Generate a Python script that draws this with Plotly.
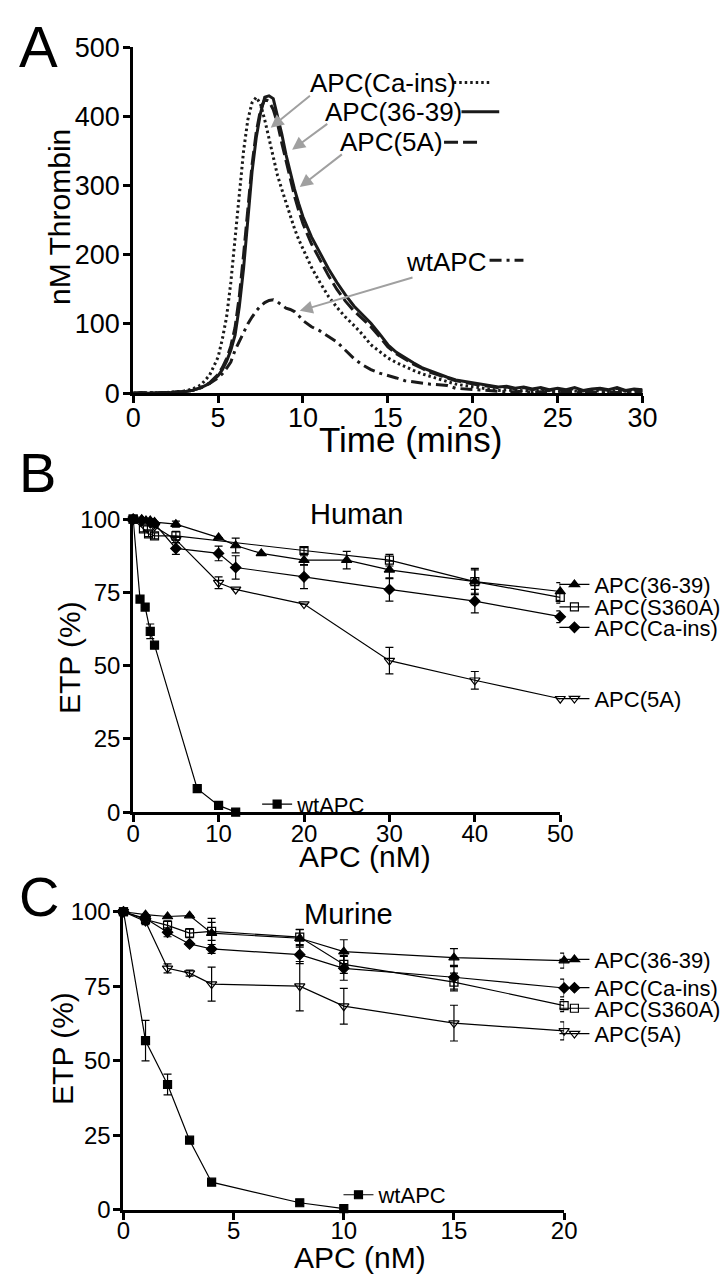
import plotly.graph_objects as go

FONT = "Liberation Sans, Arial, sans-serif"
W, H = 728, 1284

# ---- Panel A : thrombin generation curves (time in minutes, nM thrombin)
time_min = [0, 0.5, 1, 1.5, 2, 2.5, 3, 3.5, 4, 4.5,
            5, 5.25, 5.5, 5.75, 6, 6.25, 6.5, 6.75, 7, 7.25, 7.5, 7.75, 8, 8.25, 8.5, 8.75, 9, 9.25, 9.5, 9.75,
            10, 10.5, 11, 11.5, 12, 12.5, 13, 13.5, 14, 14.5, 15, 15.5, 16, 16.5, 17, 17.5, 18, 18.5, 19, 19.5,
            20, 20.5, 21, 21.5, 22, 22.5, 23, 23.5, 24, 24.5, 25, 25.5, 26, 26.5, 27, 27.5, 28, 28.5, 29, 29.5, 30]

thr_ca_ins = [0, 0, 0, 1, 1, 2, 3, 6, 12, 26,
              52, 78, 110, 160, 225, 290, 350, 395, 420, 428, 418, 395, 368, 340, 315, 295, 275, 255, 238, 222,
              208, 182, 160, 140, 124, 110, 98, 85, 70, 60, 51, 44, 38, 33, 28, 24, 20, 16, 13, 11,
              9, 7, 6, 4, 5, 3, 4, 2, 5, 3, 2, 4, 3, 2, 4, 3, 2, 4, 3, 2, 3]

thr_36_39 = [0, 0, 1, 1, 0, 2, 2, 4, 8, 14,
             25, 34, 46, 62, 84, 125, 180, 250, 320, 370, 405, 428, 430, 426, 402, 375, 345, 318, 295, 274,
             255, 226, 202, 180, 160, 142, 126, 113, 101, 86, 70, 59, 51, 44, 37, 32, 27, 23, 19, 17,
             14, 13, 11, 9, 10, 7, 9, 6, 8, 5, 7, 5, 8, 4, 6, 7, 5, 8, 4, 6, 5]

thr_5a = [0, 1, 0, 1, 1, 1, 2, 4, 8, 15,
          27, 37, 50, 68, 95, 140, 200, 268, 330, 378, 410, 425, 422, 410, 390, 362, 335, 308, 285, 264,
          245, 216, 192, 170, 150, 133, 119, 107, 96, 82, 67, 57, 49, 42, 36, 30, 26, 22, 18, 16,
          13, 11, 10, 8, 9, 6, 8, 5, 7, 4, 6, 4, 7, 3, 5, 6, 4, 7, 3, 5, 4]

thr_wt = [0, 0, 0, 1, 1, 1, 2, 4, 8, 14,
          22, 28, 36, 45, 62, 75, 88, 100, 110, 119, 126, 131, 134, 135, 132, 127, 123, 121, 118, 112,
          105, 96, 90, 82, 74, 62, 50, 41, 34, 29, 26, 22, 18, 16, 15, 13, 12, 11, 7, 6,
          6, 4, 3, 3, 2, 2, 3, 1, 2, 1, 2, 1, 2, 1, 2, 1, 2, 1, 2, 1, 1]

# ---- Panel B : Human plasma, ETP (%) vs APC (nM)
h_wt_x = [0, 0.8, 1.4, 2, 2.5, 7.5, 10, 12]
h_wt_y = [100, 72.7, 70, 61.7, 57, 8, 2.3, 0]
h_wt_e = [0, 0, 0, 2.5, 0, 0, 0, 0]

h_3639_x = [0, 1, 1.5, 2, 2.5, 5, 10, 12, 15, 20, 25, 30, 40, 50]
h_3639_y = [100, 100, 99.5, 99.5, 99, 98.3, 93.7, 91, 88.3, 86, 86, 82.7, 78.7, 75.3]
h_3639_e = [0, 0, 0, 0, 0, 1, 0, 2.5, 0, 1.5, 3, 3, 4, 3]

h_s360a_x = [0, 1.2, 1.8, 2.5, 5, 20, 30, 40, 50]
h_s360a_y = [100, 96.7, 95, 94.3, 94.3, 89.3, 86, 78.7, 73.3]
h_s360a_e = [0, 1, 1, 1, 1.5, 1, 2, 4.5, 2]

h_ca_x = [0, 1, 2, 2.5, 5, 10, 12, 20, 30, 40, 50]
h_ca_y = [100, 99.5, 99, 98.5, 90, 88.3, 83.5, 80.3, 76, 72, 66.7]
h_ca_e = [0, 0, 0, 0, 2, 2.5, 4, 4, 4, 4, 2]

h_5a_x = [0, 1, 2, 2.5, 5, 10, 12, 20, 30, 40, 50]
h_5a_y = [100, 99.5, 98.5, 97.5, 93, 78.3, 76, 71, 51.7, 45, 38.7]
h_5a_e = [0, 0, 0, 0, 1, 2, 0, 0, 4.5, 3, 0]

# ---- Panel C : Murine plasma
m_wt_x = [0, 1, 2, 3, 4, 8, 10]
m_wt_y = [100, 56.7, 42, 23.3, 9.2, 2.3, 0.3]
m_wt_e = [0, 6.8, 3.5, 0, 0, 0, 0]

m_x = [0, 1, 2, 3, 4, 8, 10, 15, 20]
m_3639_y = [100, 99, 98.4, 98.7, 92.8, 91.1, 86.6, 84.6, 83.6]
m_3639_e = [0, 0, 0, 0, 5, 3, 4, 3, 2.5]
m_s360a_y = [100, 97.4, 95.4, 92.8, 93.4, 91.5, 82.3, 76.4, 68.5]
m_s360a_e = [0, 1, 1.5, 1.5, 3, 2.5, 3, 3, 2]
m_ca_y = [100, 97.7, 93.1, 89.2, 87.5, 85.6, 81, 78, 74.4]
m_ca_e = [0, 0.5, 1.5, 0, 1.5, 3, 4, 4, 3]
m_5a_y = [100, 96.7, 81, 79.4, 75.7, 75, 68.3, 62.6, 60]
m_5a_e = [0, 1, 1.5, 1, 5.7, 8.3, 6, 6, 3]


def px(x):
    return x / W


def py(y):
    return 1 - y / H


fig = go.Figure()

# panel A curves
DOT = "2.5px,3px"
LDASH = "14px,5px"
DDOT = "12px,5px,3px,5px"
curve_styles = [
    (thr_ca_ins, DOT, 3),
    (thr_36_39, "solid", 3),
    (thr_5a, LDASH, 3),
    (thr_wt, DDOT, 3),
]
for vals, dash, lw in curve_styles:
    fig.add_trace(go.Scatter(x=time_min, y=vals, mode="lines", xaxis="x", yaxis="y",
                             line=dict(color="#1a1a1a", width=lw, dash=dash), showlegend=False))

# panels B and C: line + markers + error bars, each with its own little legend
def etp_trace(x, y, e, name, symbol, size, xa, ya, legend):
    return go.Scatter(
        x=x, y=y, mode="lines+markers", name=name, xaxis=xa, yaxis=ya, legend=legend,
        line=dict(color="black", width=1.2),
        marker=dict(symbol=symbol, size=size, color="black", line=dict(color="black", width=1.2)),
        error_y=dict(type="data", array=e, visible=True, color="black", thickness=1.2, width=4),
        cliponaxis=False,
    )

fig.add_trace(etp_trace(h_3639_x, h_3639_y, h_3639_e, "APC(36-39)", "triangle-up", 9, "x2", "y2", "legend"))
fig.add_trace(etp_trace(h_s360a_x, h_s360a_y, h_s360a_e, "APC(S360A)", "square-open", 8, "x2", "y2", "legend2"))
fig.add_trace(etp_trace(h_ca_x, h_ca_y, h_ca_e, "APC(Ca-ins)", "diamond", 8, "x2", "y2", "legend3"))
fig.add_trace(etp_trace(h_5a_x, h_5a_y, h_5a_e, "APC(5A)", "triangle-down-open", 9, "x2", "y2", "legend4"))
fig.add_trace(etp_trace(h_wt_x, h_wt_y, h_wt_e, "wtAPC", "square", 8, "x2", "y2", "legend5"))

fig.add_trace(etp_trace(m_x, m_3639_y, m_3639_e, "APC(36-39)", "triangle-up", 9, "x3", "y3", "legend6"))
fig.add_trace(etp_trace(m_x, m_ca_y, m_ca_e, "APC(Ca-ins)", "diamond", 8, "x3", "y3", "legend7"))
fig.add_trace(etp_trace(m_x, m_s360a_y, m_s360a_e, "APC(S360A)", "square-open", 8, "x3", "y3", "legend8"))
fig.add_trace(etp_trace(m_x, m_5a_y, m_5a_e, "APC(5A)", "triangle-down-open", 9, "x3", "y3", "legend9"))
fig.add_trace(etp_trace(m_wt_x, m_wt_y, m_wt_e, "wtAPC", "square", 8, "x3", "y3", "legend10"))

axis_style = dict(showline=True, linecolor="black", linewidth=3, ticks="outside", ticklen=7,
                  tickwidth=3, tickcolor="black", showgrid=False, zeroline=False,
                  tickfont=dict(family=FONT, size=24, color="black"))
x_style = dict(axis_style, ticklabelstandoff=-9)
y_style = dict(axis_style, ticklabelstandoff=-2)

layout = dict(
    width=W, height=H, margin=dict(l=0, r=0, t=0, b=0),
    paper_bgcolor="white", plot_bgcolor="white",
    font=dict(family=FONT, color="black"),
    xaxis=dict(x_style, domain=[px(121), px(647)], anchor="y", range=[0, 30],
               tickvals=[0, 5, 10, 15, 20, 25, 30],
               tickfont=dict(family=FONT, size=27, color="black")),
    yaxis=dict(y_style, domain=[py(379), py(25)], anchor="x", range=[0, 500],
               tickvals=[0, 100, 200, 300, 400, 500],
               tickfont=dict(family=FONT, size=27, color="black")),
    xaxis2=dict(x_style, domain=[px(121), px(562)], anchor="y2", range=[0, 50],
                tickvals=[0, 10, 20, 30, 40, 50]),
    yaxis2=dict(y_style, domain=[py(808), py(508)], anchor="x2", range=[0, 100],
                tickvals=[0, 25, 50, 75, 100]),
    xaxis3=dict(x_style, domain=[px(111), px(566)], anchor="y3", range=[0, 20],
                tickvals=[0, 5, 10, 15, 20]),
    yaxis3=dict(y_style, domain=[py(1215), py(910)], anchor="x3", range=[0, 100],
                tickvals=[0, 25, 50, 75, 100]),
)

# legend placements (left edge x, centre y in pixels)
legend_pos = {
    "legend": (556, 575), "legend2": (556, 598), "legend3": (556, 619),
    "legend4": (556, 692), "legend5": (249, 800),
    "legend6": (556, 959), "legend7": (556, 988), "legend8": (556, 1009),
    "legend9": (556, 1035), "legend10": (333, 1200),
}
for key, (lx, ly) in legend_pos.items():
    layout[key] = dict(x=px(lx), y=py(ly), xanchor="left", yanchor="middle",
                       bgcolor="rgba(0,0,0,0)", borderwidth=0, itemwidth=30,
                       font=dict(family=FONT, size=22, color="black"))

fig.update_layout(**layout)

def label(text, x, y, size, angle=0, anchor="center"):
    fig.add_annotation(text=text, x=px(x), y=py(y), xref="paper", yref="paper",
                       xanchor=anchor, yanchor="middle", showarrow=False, textangle=angle,
                       font=dict(family=FONT, size=size, color="black"))

# panel letters
label("A", 23, 24, 58)
label("B", 22, 460, 56)
label("C", 24, 894, 56)

# axis titles
label("nM Thrombin", 45, 199, 30, angle=-90)
label("Time (mins)", 407, 426, 35)
label("ETP (%)", 56, 650, 30, angle=-90)
label("APC (nM)", 360, 853, 30)
label("ETP (%)", 48, 1050, 30, angle=-90)
label("APC (nM)", 355, 1264, 30)
label("Human", 352, 503, 29)
label("Murine", 343, 912, 29)

# panel A curve labels
label("APC(Ca-ins)", 302, 61, 26, anchor="left")
label("APC(36-39)", 317, 91, 26, anchor="left")
label("APC(5A)", 333, 122, 26, anchor="left")
label("wtAPC", 401, 245, 26, anchor="left")

# line-style keys after the panel A labels
keys = [(452, 490, 61, DOT), (460, 499, 91, "solid"),
        (442, 480, 122, LDASH), (489, 524, 243, DDOT)]
for x0, x1, yk, dash in keys:
    fig.add_shape(type="line", xref="paper", yref="paper", x0=px(x0), x1=px(x1), y0=py(yk), y1=py(yk),
                  line=dict(color="#1a1a1a", width=3, dash=dash))

# grey arrows pointing at curves (tail -> head, in data units of panel A)
arrows = [((10.5, 432), (8.1, 384)), ((11.52, 391), (9.36, 352)),
          ((12.38, 347), (9.81, 298)), ((16.54, 168), (9.81, 119))]
for (tx, ty), (hx, hy) in arrows:
    fig.add_annotation(x=hx, y=hy, ax=tx, ay=ty, xref="x", yref="y", axref="x", ayref="y",
                       text="", showarrow=True, arrowhead=2, arrowsize=1.3, arrowwidth=2,
                       arrowcolor="#a0a0a0")

fig.write_html("out.html")
